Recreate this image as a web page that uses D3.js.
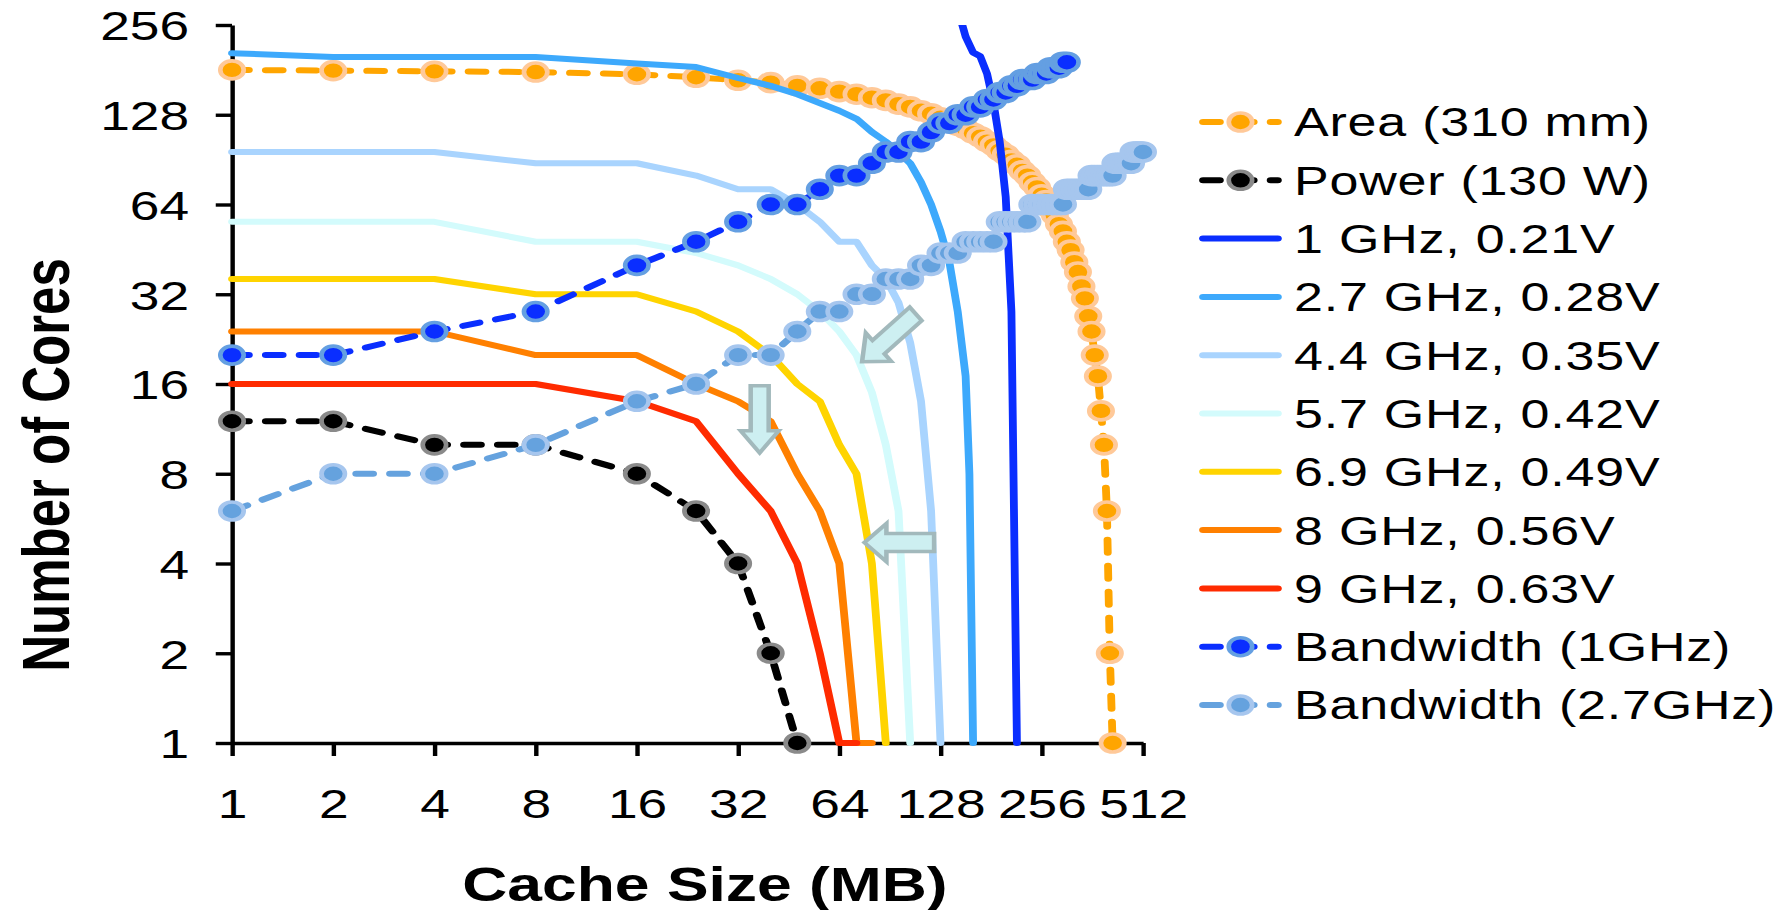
<!DOCTYPE html>
<html>
<head>
<meta charset="utf-8">
<script src="https://cdn.jsdelivr.net/npm/d3@7"></script>
<style>
  html, body { margin: 0; padding: 0; background: #fff; }
  svg { display: block; }
</style>
</head>
<body>
<svg id="chart"></svg>
<script>
// ---- values (cache size in MB, number of cores) ----
const xTicks = [1, 2, 4, 8, 16, 32, 64, 128, 256, 512];
const yTicks = [1, 2, 4, 8, 16, 32, 64, 128, 256];

const areaMB = [1,2,4,8,16,24,32,40,48,56,64,72,80,88,96,104,112,120,128,136,144,152,160,168,176,184,192,200,208,216,224,232,240,248,256,264,272,280,288,296,304,312,320,328,336,344,352,360,368,376,384,392,400,408,416];
const areaCores = [181,180,179,178,175,171,167,164,160,157,153,150,146,143,139,136,132,129,125,122,118,115,111,108,104,101,97,94,90,87,83,80,76,73,69,66,62,59,55,52,48,45,41,38,34,31,27,24,20,17,13,10,6,2,1];

const powerMB = [1,2,4,8,16,24,32,40,48];
const powerCores = [12,12,10,10,8,6,4,2,1];

const f1MB = [144,152,160,168,176,184,192,200,208,216];
const f1Cores = [290,234,207,201,176,140,104,68,28,1];

const f27MB = [1,2,4,8,16,24,32,40,48,64,72,80,88,96,104,112,120,128,136,144,152,156,160];
const f27Cores = [206,200,200,200,190,185,170,160,150,132,124,112,104,96,88,76,64,52,41,28,17,8,1];

const f44MB = [1,2,4,8,16,24,32,40,48,56,64,72,80,88,96,104,112,120,128];
const f44Cores = [96,96,96,88,88,80,72,72,64,56,48,48,40,36,30,22,14,6,1];

const f57MB = [1,2,4,8,16,24,32,40,48,56,64,72,80,88,96,104];
const f57Cores = [56,56,56,48,48,44,40,36,32,28,24,20,15,10,6,1];

const f69MB = [1,2,4,8,16,24,32,40,48,56,64,72,80,88];
const f69Cores = [36,36,36,32,32,28,24,20,16,14,10,8,4,1];

const f8MB = [1,2,4,8,16,24,32,40,48,56,64,72,80];
const f8Cores = [24,24,24,20,20,16,14,12,8,6,4,1,1];

const f9MB = [1,2,4,8,16,24,32,40,48,56,64,72];
const f9Cores = [16,16,16,16,14,12,8,6,4,2,1,1];

const bw1MB = [1,2,4,8,16,24,32,40,48,56,64,72,80,88,96,104,112,120,128,136,144,152,160,168,176,184,192,200,208,216,224,232,240,248,256,264,272,280,288,296,304];
const bw1Cores = [20,20,24,28,40,48,56,64,64,72,80,80,88,96,96,104,104,112,120,120,128,128,136,136,144,144,152,152,160,160,168,168,168,176,176,176,184,184,184,192,192];

const bw27MB = [1,2,4,8,16,24,32,40,48,56,64,72,80,88,96,104,112,120,128,136,144,152,160,168,176,184,192,200,208,216,224,232,240,248,256,264,272,280,288,296,304,312,320,328,336,344,352,360,368,376,384,392,400,408,416,424,432,440,448,456,464,472,480,488,496,504,512];
const bw27Cores = [6,8,8,10,14,16,20,20,24,28,28,32,32,36,36,36,40,40,44,44,44,48,48,48,48,48,56,56,56,56,56,56,64,64,64,64,64,64,64,64,72,72,72,72,72,72,72,80,80,80,80,80,80,80,80,88,88,88,88,88,88,88,96,96,96,96,96];

// callout arrows, ends given as [MB, cores]
const arrowFrom = [[108, 27.5], [37.1, 15.8], [122.5, 4.7]];
const arrowTo   = [[74.8, 19.0], [37.1, 9.4], [76, 4.7]];

// ---- layout ----
const W = 1791, H = 910;
const SX = 1.3;                 // the whole drawing is widened horizontally
const IW = W / SX;
const FONT = '"Liberation Sans", Arial, Helvetica, sans-serif';

const svg = d3.select('#chart')
  .attr('width', W).attr('height', H)
  .attr('viewBox', `0 0 ${IW} ${H}`)
  .attr('preserveAspectRatio', 'none')
  .style('font-family', FONT);

const x = d3.scaleLog().base(2).domain([1, 512]).range([178.46, 879.2]);
const y = d3.scaleLog().base(2).domain([1, 256]).range([743, 25]);

svg.append('defs').append('clipPath').attr('id', 'plotClip')
  .append('rect').attr('x', 0).attr('y', 25).attr('width', IW).attr('height', H - 25);

// ---- axes ----
const yAxis = svg.append('g').attr('transform', `translate(${x(1)},0)`)
  .call(d3.axisLeft(y).tickValues(yTicks).tickFormat(d3.format('d'))
        .tickSize(12.5).tickSizeOuter(0).tickPadding(20.5));
const xAxis = svg.append('g').attr('transform', `translate(0,${y(1)})`)
  .call(d3.axisBottom(x).tickValues(xTicks).tickFormat(d3.format('d'))
        .tickSize(13).tickSizeOuter(0).tickPadding(33));
[yAxis, xAxis].forEach(g => {
  g.select('.domain').attr('stroke', '#000').attr('stroke-width', 3.4);
  g.selectAll('.tick line').attr('stroke', '#000').attr('stroke-width', 3.4);
  g.selectAll('.tick text').attr('fill', '#000').style('font-size', '41px').style('font-family', FONT);
});
yAxis.selectAll('.tick text').attr('dy', '0.36em');

svg.append('text')
  .attr('transform', `translate(53,465) rotate(-90)`)
  .attr('text-anchor', 'middle')
  .style('font-size', '51px').style('font-weight', 'bold')
  .text('Number of Cores');

svg.append('text')
  .attr('x', 542.3).attr('y', 901)
  .attr('text-anchor', 'middle')
  .style('font-size', '48px').style('font-weight', 'bold')
  .text('Cache Size (MB)');

// ---- series ----
const DASH = '13,13';
const series = [
  { name: 'Area (310 mm)', mb: areaMB, cores: areaCores, color: '#FFA500', dash: true, fill: '#FFA500', ring: '#FFC999' },
  { name: 'Power (130 W)', mb: powerMB, cores: powerCores, color: '#000000', dash: true, fill: '#000000', ring: '#8A8A8A' },
  { name: '1 GHz, 0.21V', mb: f1MB, cores: f1Cores, color: '#0A2EFF', clip: true },
  { name: '2.7 GHz, 0.28V', mb: f27MB, cores: f27Cores, color: '#3DA9FC' },
  { name: '4.4 GHz, 0.35V', mb: f44MB, cores: f44Cores, color: '#A9D4FE' },
  { name: '5.7 GHz, 0.42V', mb: f57MB, cores: f57Cores, color: '#D3FBFC' },
  { name: '6.9 GHz, 0.49V', mb: f69MB, cores: f69Cores, color: '#FFD400' },
  { name: '8 GHz, 0.56V', mb: f8MB, cores: f8Cores, color: '#FF8000' },
  { name: '9 GHz, 0.63V', mb: f9MB, cores: f9Cores, color: '#FF2B00' },
  { name: 'Bandwidth (1GHz)', mb: bw1MB, cores: bw1Cores, color: '#0A2EFF', dash: true, fill: '#0A2EFF', ring: '#649FE2' },
  { name: 'Bandwidth (2.7GHz)', mb: bw27MB, cores: bw27Cores, color: '#65A2DE', dash: true, fill: '#65A2DE', ring: '#A6C6EE' }
];

const line = d3.line().x(d => x(d[0])).y(d => y(d[1]));
const R = 9, RING = 3.6, LW = 6;

const plot = svg.append('g');
series.forEach(s => {
  const pts = s.mb.map((m, i) => [m, s.cores[i]]);
  const g = plot.append('g');
  const p = g.append('path')
    .attr('d', line(pts))
    .attr('fill', 'none')
    .attr('stroke', s.color)
    .attr('stroke-width', LW)
    .attr('stroke-linejoin', 'round')
    .attr('stroke-linecap', 'round');
  if (s.dash) p.attr('stroke-dasharray', DASH);
  if (s.clip) p.attr('clip-path', 'url(#plotClip)');
  if (s.fill) {
    g.selectAll('circle').data(pts).join('circle')
      .attr('cx', d => x(d[0])).attr('cy', d => y(d[1]))
      .attr('r', R)
      .attr('fill', s.fill)
      .attr('stroke', s.ring)
      .attr('stroke-width', RING);
  }
});

// ---- callout arrows (shaped in screen pixels, then mapped into the widened frame) ----
function arrowShape(x0, y0, x1, y1) {
  const dx = x1 - x0, dy = y1 - y0, len = Math.hypot(dx, dy);
  const ux = dx / len, uy = dy / len, nx = -uy, ny = ux;
  const hw = 9, hh = 19, hl = 22;
  const bx = x1 - ux * hl, by = y1 - uy * hl;
  const pts = [
    [x0 + nx * hw, y0 + ny * hw], [bx + nx * hw, by + ny * hw], [bx + nx * hh, by + ny * hh],
    [x1, y1],
    [bx - nx * hh, by - ny * hh], [bx - nx * hw, by - ny * hw], [x0 - nx * hw, y0 - ny * hw]
  ];
  return 'M' + pts.map(p => [(p[0] / SX).toFixed(2), p[1].toFixed(2)].join(',')).join('L') + 'Z';
}
const callouts = svg.append('g');
arrowFrom.forEach((a, i) => {
  const b = arrowTo[i];
  callouts.append('path')
    .attr('d', arrowShape(x(a[0]) * SX, y(a[1]), x(b[0]) * SX, y(b[1])))
    .attr('fill', '#CDEFF1')
    .attr('stroke', '#A2B9BC')
    .attr('stroke-width', 3.5)
    .attr('stroke-linejoin', 'miter');
});

// ---- legend ----
const legend = svg.append('g');
const LX0 = 925.4, LX1 = 983, LTX = 995.4, LY0 = 122, LDY = 58.3;
series.forEach((s, i) => {
  const ly = LY0 + i * LDY;
  const g = legend.append('g');
  const p = g.append('path')
    .attr('d', `M${LX0},${ly}H${LX1}`)
    .attr('stroke', s.color)
    .attr('stroke-width', LW)
    .attr('stroke-linecap', 'round');
  if (s.dash) p.attr('stroke-dasharray', DASH);
  if (s.fill) {
    g.append('circle').attr('cx', (LX0 + LX1) / 2).attr('cy', ly).attr('r', R)
      .attr('fill', s.fill).attr('stroke', s.ring).attr('stroke-width', RING);
  }
  g.append('text')
    .attr('x', LTX).attr('y', ly + 14.5)
    .style('font-size', '40px')
    .style('letter-spacing', '0.6px')
    .attr('fill', '#000')
    .text(s.name);
});
</script>
</body>
</html>
